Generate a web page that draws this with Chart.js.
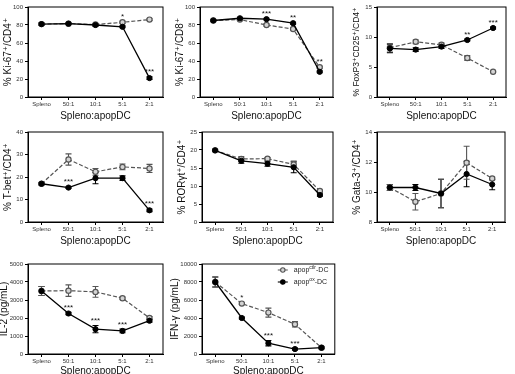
<!DOCTYPE html>
<html>
<head>
<meta charset="utf-8">
<script src="https://cdn.jsdelivr.net/npm/chart.js@4/dist/chart.umd.min.js"></script>
<style>
html, body { margin: 0; padding: 0; background: #fff; overflow: hidden; width: 515px; height: 374px; }
canvas { position: absolute; }
</style>
</head>
<body>
<canvas id="p1" width="170" height="125" style="left:0;top:0"></canvas>
<canvas id="p2" width="170" height="125" style="left:170px;top:0"></canvas>
<canvas id="p3" width="175" height="125" style="left:340px;top:0"></canvas>
<canvas id="p4" width="170" height="125" style="left:0;top:125px"></canvas>
<canvas id="p5" width="170" height="125" style="left:170px;top:125px"></canvas>
<canvas id="p6" width="175" height="125" style="left:340px;top:125px"></canvas>
<canvas id="p7" width="170" height="130" style="left:0;top:250px"></canvas>
<canvas id="p8" width="170" height="130" style="left:170px;top:250px"></canvas>
<script>
const categories = ['Spleno', '50:1', '10:1', '5:1', '2:1'];

// Ki-67+ / CD4+
const ki67Cd4Ctrl = [81, 81.5, 80.5, 83, 86];
const ki67Cd4CtrlErr = [1, 1, 1, 1, 1];
const ki67Cd4Ox = [81, 81.5, 80, 78, 21];
const ki67Cd4OxErr = [1.5, 1, 1.5, 1, 1.5];
const ki67Cd4Stars = ['', '', '', '*', '***'];

// Ki-67+ / CD8+
const ki67Cd8Ctrl = [85, 86, 80, 75.5, 33];
const ki67Cd8CtrlErr = [1, 1, 1, 1, 1];
const ki67Cd8Ox = [85, 87.5, 86.5, 82, 28];
const ki67Cd8OxErr = [1, 1, 1, 1, 1];
const ki67Cd8Stars = ['', '', '***', '**', '**'];

// FoxP3+CD25+ / CD4+
const foxp3Ctrl = [8.2, 9.2, 8.7, 6.5, 4.2];
const foxp3CtrlErr = [0.7, 0.3, 0.3, 0.4, 0.1];
const foxp3Ox = [8.1, 7.9, 8.4, 9.5, 11.5];
const foxp3OxErr = [0.7, 0.3, 0.3, 0.15, 0.15];
const foxp3Stars = ['', '', '', '**', '***'];

// T-bet+ / CD4+
const tbetCtrl = [17, 27.8, 22.3, 24.5, 23.8];
const tbetCtrlErr = [0.5, 2.5, 1.5, 1.3, 1.8];
const tbetOx = [17, 15.3, 19.5, 19.5, 5.2];
const tbetOxErr = [0.5, 0.4, 2.5, 1.0, 0.6];
const tbetStars = ['', '***', '', '', '***'];

// RORgt+ / CD4+
const rorCtrl = [19.9, 17.5, 17.6, 16.0, 8.6];
const rorCtrlErr = [0.3, 0.7, 0.3, 0.9, 0.3];
const rorOx = [19.9, 17.0, 16.2, 15.2, 7.5];
const rorOxErr = [0.3, 0.7, 0.7, 1.5, 0.3];
const rorStars = ['', '', '', '', ''];

// Gata-3+ / CD4+
const gataCtrl = [10.3, 9.35, 9.9, 11.95, 10.9];
const gataCtrlErr = [0.2, 0.55, 0.95, 1.1, 0.1];
const gataOx = [10.3, 10.3, 9.9, 11.2, 10.5];
const gataOxErr = [0.2, 0.2, 0.95, 0.85, 0.35];
const gataStars = ['', '', '', '', ''];

// IL-2 (pg/mL)
const il2Ctrl = [3500, 3520, 3450, 3100, 2000];
const il2CtrlErr = [250, 320, 300, 60, 80];
const il2Ox = [3500, 2250, 1380, 1280, 1850];
const il2OxErr = [250, 60, 200, 100, 80];
const il2Stars = ['', '***', '***', '***', ''];

// IFN-g (pg/mL)
const ifngCtrl = [8000, 5600, 4600, 3300, 700];
const ifngCtrlErr = [550, 100, 500, 300, 100];
const ifngOx = [8000, 4000, 1200, 550, 700];
const ifngOxErr = [550, 100, 300, 100, 100];
const ifngStars = ['', '*', '***', '***', ''];

Chart.defaults.font.family = '"Liberation Sans", Arial, "DejaVu Sans", sans-serif';
Chart.defaults.color = '#222';

// error bars behind the symbols
const errorBars = {
    id: 'errorBars',
    beforeDatasetsDraw(chart) {
        const { ctx } = chart;
        const yScale = chart.scales.y;
        chart.data.datasets.forEach((ds, di) => {
            const meta = chart.getDatasetMeta(di);
            ctx.save();
            ctx.strokeStyle = ds.borderColor;
            ctx.lineWidth = 1.1;
            meta.data.forEach((pt, i) => {
                const e = ds.errors[i];
                const y1 = yScale.getPixelForValue(ds.data[i] + e);
                const y2 = yScale.getPixelForValue(ds.data[i] - e);
                ctx.beginPath();
                ctx.moveTo(pt.x, y1); ctx.lineTo(pt.x, y2);
                ctx.moveTo(pt.x - 3, y1); ctx.lineTo(pt.x + 3, y1);
                ctx.moveTo(pt.x - 3, y2); ctx.lineTo(pt.x + 3, y2);
                ctx.stroke();
            });
            ctx.restore();
        });
    }
};

// box round the plot area
const frame = {
    id: 'frame',
    afterDraw(chart) {
        const { ctx, chartArea: a } = chart;
        ctx.save();
        ctx.strokeStyle = '#000';
        ctx.lineWidth = 1;
        ctx.strokeRect(a.left, a.top, a.right - a.left, a.bottom - a.top);
        ctx.restore();
    }
};

// significance marks above the apop-ox points
const stars = {
    id: 'stars',
    afterDatasetsDraw(chart, args, opts) {
        const { ctx } = chart;
        const yScale = chart.scales.y;
        const ox = chart.data.datasets[0], ctrl = chart.data.datasets[1];
        const pts = chart.getDatasetMeta(0).data;
        ctx.save();
        ctx.fillStyle = '#111';
        ctx.font = '8px "Liberation Sans", Arial, sans-serif';
        ctx.textAlign = 'center';
        ctx.textBaseline = 'alphabetic';
        (opts.labels || []).forEach((s, i) => {
            if (!s) return;
            let anchor = yScale.getPixelForValue(ox.data[i] + ox.errors[i]);
            const ctop = yScale.getPixelForValue(ctrl.data[i] + ctrl.errors[i]);
            if (ctop < anchor && anchor - ctop < 15) anchor = ctop;
            ctx.fillText(s, pts[i].x, anchor - 2.5);
        });
        ctx.restore();
    }
};

// legend drawn inside the plot area, with superscripts
const keyBox = {
    id: 'keyBox',
    afterDraw(chart, args, opts) {
        if (!opts.show) return;
        const { ctx, chartArea: a } = chart;
        const rows = [
            { ds: chart.data.datasets[1], sup: 'ctlr' },
            { ds: chart.data.datasets[0], sup: 'ox' }
        ];
        ctx.save();
        rows.forEach((r, k) => {
            const y = a.top + 6 + k * 12;
            const x0 = a.right - 57;
            ctx.strokeStyle = r.ds.borderColor;
            ctx.lineWidth = 1.1;
            ctx.setLineDash(r.ds.borderDash || []);
            ctx.beginPath(); ctx.moveTo(x0, y); ctx.lineTo(x0 + 10, y); ctx.stroke();
            ctx.setLineDash([]);
            ctx.beginPath(); ctx.arc(x0 + 5, y, 2.2, 0, Math.PI * 2);
            ctx.fillStyle = r.ds.pointBackgroundColor; ctx.fill();
            ctx.strokeStyle = r.ds.pointBorderColor; ctx.stroke();
            ctx.fillStyle = '#222';
            ctx.textBaseline = 'middle';
            let x = x0 + 16;
            ctx.font = '7px "Liberation Sans", Arial, sans-serif';
            ctx.fillText('apop', x, y); x += ctx.measureText('apop').width;
            ctx.font = '5px "Liberation Sans", Arial, sans-serif';
            ctx.fillText(r.sup, x, y - 2.5); x += ctx.measureText(r.sup).width;
            ctx.font = '7px "Liberation Sans", Arial, sans-serif';
            ctx.fillText('-DC', x, y);
        });
        ctx.restore();
    }
};

function buildChart(id, o) {
    const ctx = document.getElementById(id).getContext('2d');
    return new Chart(ctx, {
        type: 'line',
        data: {
            labels: categories,
            datasets: [{
                label: 'apopox-DC',
                data: o.ox,
                errors: o.oxErr,
                borderColor: '#000',
                backgroundColor: '#000',
                borderWidth: 1.3,
                pointRadius: 2.6,
                pointBackgroundColor: '#000',
                pointBorderColor: '#000',
                pointBorderWidth: 1,
                tension: 0
            }, {
                label: 'apopctlr-DC',
                data: o.ctrl,
                errors: o.ctrlErr,
                borderColor: '#555',
                backgroundColor: '#ddd',
                borderWidth: 1.2,
                borderDash: [4, 2],
                pointRadius: 2.6,
                pointBackgroundColor: '#d4d4d4',
                pointBorderColor: '#555',
                pointBorderWidth: 1.2,
                tension: 0
            }]
        },
        options: {
            responsive: false,
            animation: false,
            layout: { padding: { top: o.padTop, right: o.padRight, left: 0, bottom: 0 } },
            plugins: {
                legend: { display: false },
                tooltip: { enabled: false },
                stars: { labels: o.stars },
                keyBox: { show: !!o.legend }
            },
            scales: {
                x: {
                    offset: true,
                    grid: { offset: false, drawOnChartArea: false, color: '#000', tickLength: 3 },
                    border: { color: '#000', width: 1 },
                    ticks: { color: '#333', font: { size: 6 }, padding: 1, maxRotation: 0, autoSkip: false },
                    title: { display: true, text: 'Spleno:apopDC', color: '#111', font: { size: 10 }, padding: { top: 0, bottom: 3 } },
                    afterFit: s => { s.height = o.xHeight; }
                },
                y: {
                    min: o.min,
                    max: o.max,
                    grid: { drawOnChartArea: false, color: '#000', tickLength: 3 },
                    border: { color: '#000', width: 1 },
                    ticks: { stepSize: o.step, color: '#333', font: { size: 6 }, padding: 2, callback: v => String(v) },
                    title: { display: true, text: o.title, color: '#111', font: { size: o.titleSize || 10 }, padding: { top: o.titlePad, bottom: 0 } },
                    afterFit: s => { s.width = o.yWidth; }
                }
            }
        },
        plugins: [errorBars, frame, stars, keyBox]
    });
}

buildChart('p1', { ox: ki67Cd4Ox, oxErr: ki67Cd4OxErr, ctrl: ki67Cd4Ctrl, ctrlErr: ki67Cd4CtrlErr, stars: ki67Cd4Stars,
    min: 0, max: 100, step: 20, title: '% Ki-67⁺/CD4⁺', titlePad: 2, yWidth: 28, padRight: 7, padTop: 7, xHeight: 28 });
buildChart('p2', { ox: ki67Cd8Ox, oxErr: ki67Cd8OxErr, ctrl: ki67Cd8Ctrl, ctrlErr: ki67Cd8CtrlErr, stars: ki67Cd8Stars,
    min: 0, max: 100, step: 20, title: '% Ki-67⁺/CD8⁺', titlePad: 4, yWidth: 30, padRight: 7, padTop: 7, xHeight: 28 });
buildChart('p3', { ox: foxp3Ox, oxErr: foxp3OxErr, ctrl: foxp3Ctrl, ctrlErr: foxp3CtrlErr, stars: foxp3Stars,
    min: 0, max: 15, step: 5, title: '% FoxP3⁺CD25⁺/CD4⁺', titleSize: 8.5, titlePad: 12, yWidth: 37, padRight: 9, padTop: 7, xHeight: 28 });
buildChart('p4', { ox: tbetOx, oxErr: tbetOxErr, ctrl: tbetCtrl, ctrlErr: tbetCtrlErr, stars: tbetStars,
    min: 0, max: 40, step: 10, title: '% T-bet⁺/CD4⁺', titlePad: 2, yWidth: 28, padRight: 7, padTop: 7, xHeight: 28 });
buildChart('p5', { ox: rorOx, oxErr: rorOxErr, ctrl: rorCtrl, ctrlErr: rorCtrlErr, stars: rorStars,
    min: 0, max: 25, step: 5, title: '% RORγt⁺/CD4⁺', titlePad: 6, yWidth: 32, padRight: 7, padTop: 7, xHeight: 28 });
buildChart('p6', { ox: gataOx, oxErr: gataOxErr, ctrl: gataCtrl, ctrlErr: gataCtrlErr, stars: gataStars,
    min: 8, max: 14, step: 2, title: '% Gata-3⁺/CD4⁺', titlePad: 11, yWidth: 37, padRight: 10, padTop: 7, xHeight: 28 });
buildChart('p7', { ox: il2Ox, oxErr: il2OxErr, ctrl: il2Ctrl, ctrlErr: il2CtrlErr, stars: il2Stars,
    min: 0, max: 5000, step: 1000, title: 'IL-2 (pg/mL)', titlePad: -2, yWidth: 28, padRight: 7, padTop: 14, xHeight: 26 });
buildChart('p8', { ox: ifngOx, oxErr: ifngOxErr, ctrl: ifngCtrl, ctrlErr: ifngCtrlErr, stars: ifngStars, legend: true,
    min: 0, max: 10000, step: 2000, title: 'IFN-γ (pg/mL)', titlePad: -1, yWidth: 32, padRight: 3, padTop: 14, xHeight: 26 });
</script>
</body>
</html>
